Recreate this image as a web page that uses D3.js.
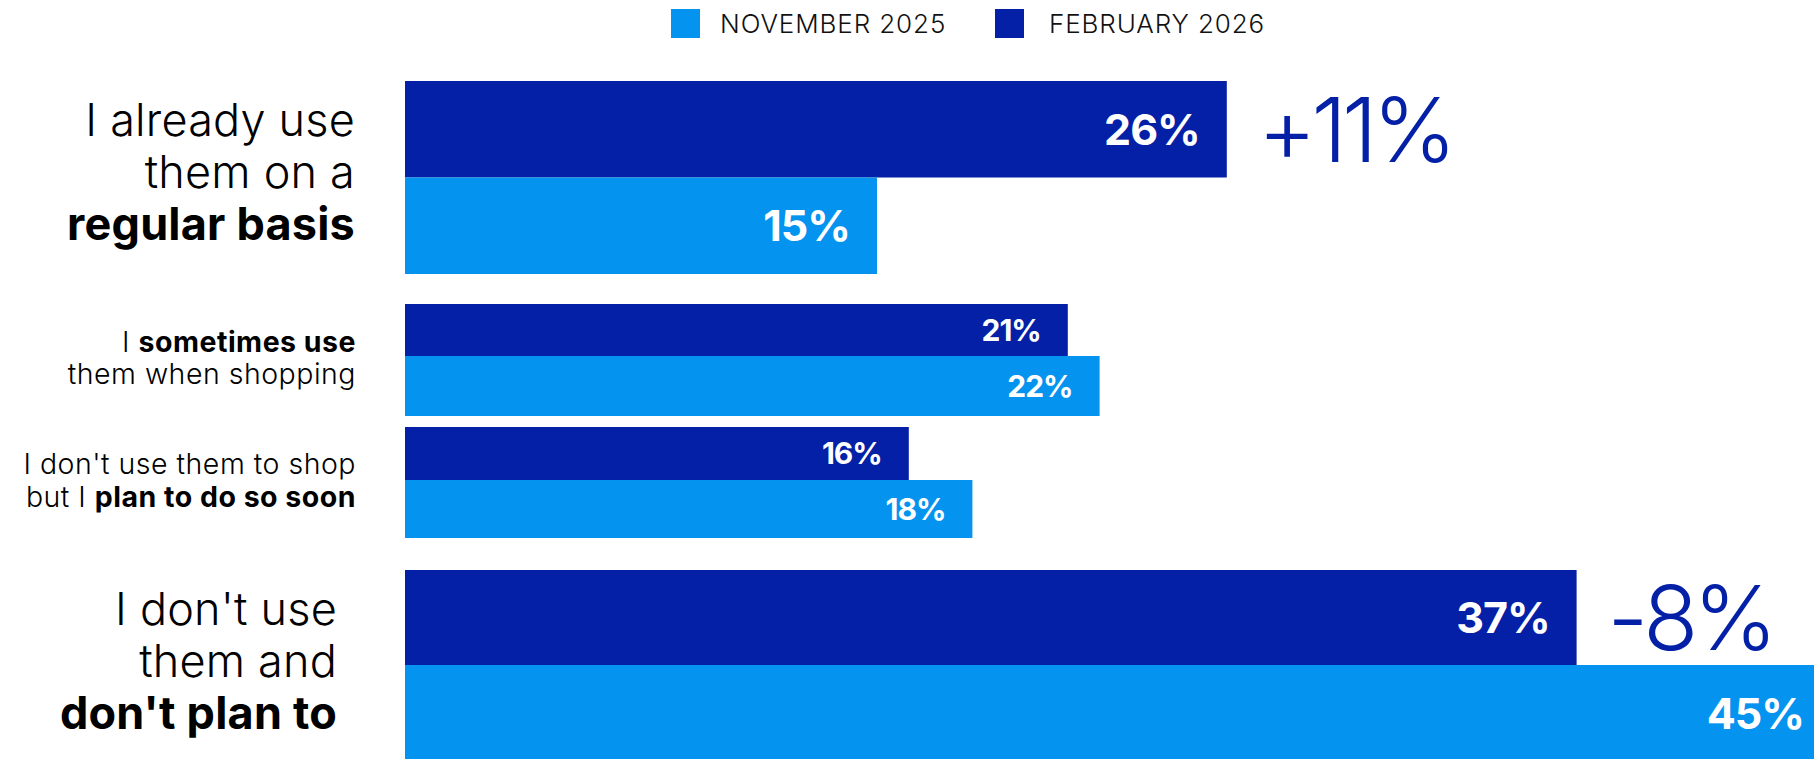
<!DOCTYPE html>
<html>
<head>
<meta charset="utf-8">
<script src="https://cdn.jsdelivr.net/npm/d3@7"></script>
<style>
  html, body { margin: 0; padding: 0; background: #fff; }
  svg { display: block; }
  text { font-family: Inter, Lato, "Open Sans", sans-serif; }
</style>
</head>
<body>
<svg id="chart" width="1814" height="759"></svg>
<script>
// Survey answers, one row per answer; each line is a list of [text, bold] runs
const categories = [
  [[["I already use", false]], [["them on a", false]], [["regular basis", true]]],
  [[["I ", false], ["sometimes use", true]], [["them when shopping", false]]],
  [[["I don't use them to shop", false]], [["but I ", false], ["plan to do so soon", true]]],
  [[["I don't use", false]], [["them and", false]], [["don't plan to", true]]]
];
const seriesNames = ["NOVEMBER 2025", "FEBRUARY 2026"];
const nov2025 = [15, 22, 18, 45];
const feb2026 = [26, 21, 16, 37];
// Rows that carry the large change annotation
const highlighted = [true, false, false, true];

const colors = { nov: "#0593f0", feb: "#0420a6" };

// Vertical layout of each row: top, split between the two bars, bottom
const rows = [
  { top: 81,  split: 177.5, bottom: 274, labelRight: 355 },
  { top: 304, split: 356,   bottom: 416, labelRight: 356 },
  { top: 427, split: 480,   bottom: 538, labelRight: 356 },
  { top: 570, split: 665,   bottom: 763, labelRight: 337 }
];

const svg = d3.select("#chart");
const barLeft = 405;
const x = d3.scaleLinear().domain([0, 45]).range([400, 1831]);

// Legend
const legendItems = [
  { name: seriesNames[0], color: colors.nov, x: 671, tx: 720 },
  { name: seriesNames[1], color: colors.feb, x: 995, tx: 1049 }
];
const legend = svg.append("g");
legend.selectAll("rect").data(legendItems).join("rect")
  .attr("x", d => d.x).attr("y", 9).attr("width", 29).attr("height", 29)
  .attr("fill", d => d.color);
legend.selectAll("text").data(legendItems).join("text")
  .attr("x", d => d.tx).attr("y", 24).attr("dy", "0.36em")
  .attr("font-size", 26).attr("font-weight", 300).attr("fill", "#111")
  .attr("letter-spacing", "0.9")
  .text(d => d.name);

const data = categories.map((lines, i) => ({
  lines, nov: nov2025[i], feb: feb2026[i], big: highlighted[i], row: rows[i]
}));

const g = svg.append("g");
const row = g.selectAll("g.row").data(data).join("g").attr("class", "row");

// February bars (top) and November bars (bottom)
row.append("rect")
  .attr("x", barLeft).attr("y", d => d.row.top)
  .attr("width", d => x(d.feb) - barLeft).attr("height", d => d.row.split - d.row.top)
  .attr("fill", colors.feb);
row.append("rect")
  .attr("x", barLeft).attr("y", d => d.row.split)
  .attr("width", d => x(d.nov) - barLeft).attr("height", d => d.row.bottom - d.row.split)
  .attr("fill", colors.nov);

// Value labels inside the bars
const valueLabel = (sel, key, y0, y1) => sel.append("text")
  .attr("x", d => x(d[key]) - 27)
  .attr("y", d => (d.row[y0] + d.row[y1]) / 2)
  .attr("dy", "0.36em")
  .attr("text-anchor", "end")
  .attr("fill", "#fff").attr("font-weight", 700)
  .attr("font-size", d => d.big ? 43 : 30)
  .attr("letter-spacing", "-1")
  .text(d => d[key] + "%");
valueLabel(row, "feb", "top", "split");
valueLabel(row, "nov", "split", "bottom");

// Change between the two waves, next to the February bar
row.filter(d => d.big).append("text")
  .attr("x", d => x(d.feb) + 31)
  .attr("y", d => (d.row.top + d.row.split) / 2)
  .attr("dy", "0.36em")
  .attr("fill", colors.feb).attr("font-weight", 300)
  .attr("font-size", 90)
  .attr("letter-spacing", "-5")
  .text(d => { const c = d.feb - d.nov; return (c > 0 ? "+" : "-") + Math.abs(c) + "%"; });

// Category labels, right-aligned to the left of the bars
row.each(function (d) {
  const size = d.big ? 45 : 28.5;
  const lh = d.big ? 52 : 32.5;
  const n = d.lines.length;
  const mid = (d.row.top + d.row.bottom) / 2 + (d.big ? -2 : 8);
  const t = d3.select(this).append("text")
    .attr("text-anchor", "end")
    .attr("font-size", size)
    .attr("letter-spacing", d.big ? "0.2" : "0.5")
    .attr("fill", "#000");
  d.lines.forEach((runs, li) => {
    const baseline = mid + (li - (n - 1) / 2) * lh + (d.big ? 12 : 0);
    runs.forEach((r, ri) => {
      const ts = t.append("tspan").text(r[0])
        .attr("font-weight", r[1] ? 700 : 300);
      if (ri === 0) ts.attr("x", d.row.labelRight).attr("y", baseline);
    });
  });
});
</script>
</body>
</html>
